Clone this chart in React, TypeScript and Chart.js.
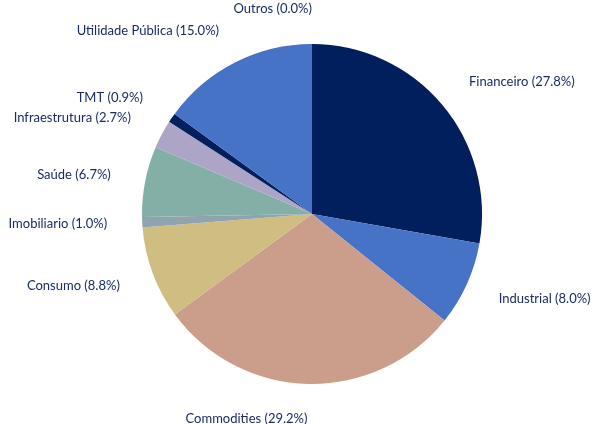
import React, { useEffect, useRef } from "react";
import { Chart, registerables } from "chart.js";

Chart.register(...registerables);

const categories = [
  "Financeiro",
  "Industrial",
  "Commodities",
  "Consumo",
  "Imobiliario",
  "Saúde",
  "Infraestrutura",
  "TMT",
  "Utilidade Pública",
  "Outros",
];
const values = [27.8, 8.0, 29.2, 8.8, 1.0, 6.7, 2.7, 0.9, 15.0, 0.0];
const colors = [
  "#001f5c",
  "#4673c6",
  "#cb9e8c",
  "#d0bd81",
  "#90a4af",
  "#84afa6",
  "#aca5c8",
  "#001f5c",
  "#4673c6",
  "#4673c6",
];

const labelPlugin = {
  id: "outerLabels",
  afterDatasetsDraw(chart: any) {
    const ctx = chart.ctx;
    const meta = chart.getDatasetMeta(0);
    ctx.save();
    ctx.font = "13px Lato";
    ctx.fillStyle = "#1b2a66";
    ctx.textBaseline = "middle";
    meta.data.forEach((arc: any, i: number) => {
      const { x, y, startAngle, endAngle, outerRadius } = arc.getProps(
        ["x", "y", "startAngle", "endAngle", "outerRadius"],
        true
      );
      const mid = (startAngle + endAngle) / 2;
      const r = outerRadius + 35;
      const lx = x + Math.cos(mid) * r;
      const ly = y + Math.sin(mid) * r;
      ctx.textAlign = lx > x + 0.5 ? "left" : "right";
      ctx.fillText(`${categories[i]} (${values[i].toFixed(1)}%)`, lx, ly);
    });
    ctx.restore();
  },
};

export default function App() {
  const ref = useRef<HTMLCanvasElement>(null);
  useEffect(() => {
    document.body.style.margin = "0";
    const chart = new Chart(ref.current!, {
      type: "pie",
      data: {
        labels: categories,
        datasets: [
          {
            data: values,
            backgroundColor: colors,
            borderWidth: 0,
          },
        ],
      },
      options: {
        animation: false,
        responsive: false,
        layout: { padding: { left: 142, right: 118, top: 44, bottom: 40 } },
        plugins: { legend: { display: false }, tooltip: { enabled: false } },
      },
      plugins: [labelPlugin],
    });
    return () => chart.destroy();
  }, []);
  return (
    <div style={{ width: 600, height: 424 }}>
      <canvas ref={ref} width={600} height={424} />
    </div>
  );
}
